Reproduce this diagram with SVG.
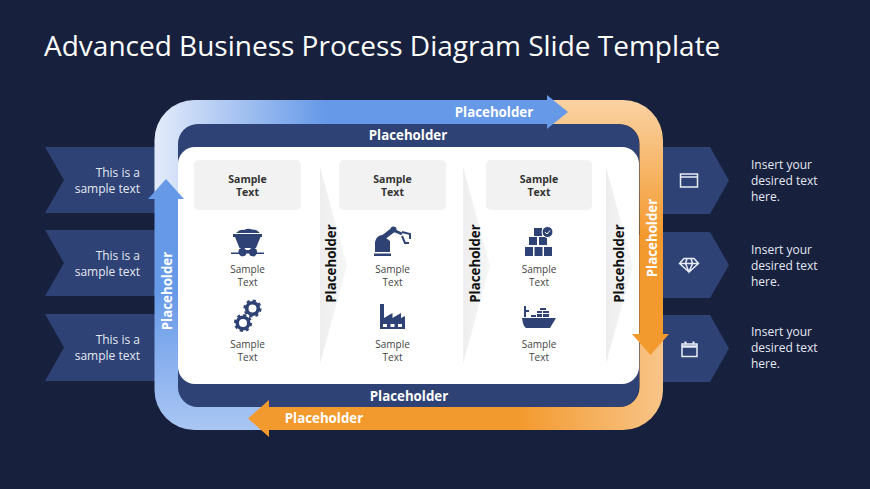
<svg xmlns="http://www.w3.org/2000/svg" width="870" height="489" viewBox="0 0 870 489">
<style>
text{font-family:"Open Sans","Liberation Sans",sans-serif}
.tag{fill:#2e4275}
.ic{fill:#2e4275}
.icl{fill:none;stroke:#e8edf7;stroke-width:1.500}
.side{font-size:12px;fill:#e4e8f2}
.sideL{text-anchor:end}
.ph{font-size:13.300px;font-weight:700;fill:#fff;text-anchor:middle}
.phk{font-size:13.300px;font-weight:700;fill:#111;text-anchor:middle}
.st{font-size:10.500px;font-weight:700;fill:#333;text-anchor:middle}
.sl{font-size:10px;fill:#444;text-anchor:middle}
.box{fill:#f2f2f2}
.tri{fill:url(#gTri)}
</style>
<defs>
<linearGradient id="gTop" gradientUnits="userSpaceOnUse" x1="155" y1="0" x2="325" y2="0"><stop offset="0" stop-color="#e3ebfa"/><stop offset="1" stop-color="#6699e8"/></linearGradient>
<linearGradient id="gOr" gradientUnits="userSpaceOnUse" x1="0" y1="100" x2="0" y2="235"><stop offset="0" stop-color="#fad2a3"/><stop offset="1" stop-color="#f39a2f"/></linearGradient>
<linearGradient id="gBot" gradientUnits="userSpaceOnUse" x1="663" y1="0" x2="520" y2="0"><stop offset="0" stop-color="#f8c488"/><stop offset="1" stop-color="#f39a2f"/></linearGradient>
<linearGradient id="gLeft" gradientUnits="userSpaceOnUse" x1="0" y1="290" x2="0" y2="430"><stop offset="0" stop-color="#6699e8"/><stop offset="1" stop-color="#aac6f4"/></linearGradient>
<linearGradient id="gTri" x1="0" y1="0" x2="1" y2="0"><stop offset="0" stop-color="#eeeeee"/><stop offset="1" stop-color="#f6f6f6"/></linearGradient>
</defs>
<rect width="870" height="489" fill="#17203d"/>
<text x="44" y="56" font-size="28" fill="#fff" id="title">Advanced Business Process Diagram Slide Template</text>

<g id="left-tags">
<path class="tag" d="M45 147H156V213H45L64 180Z"/>
<path class="tag" d="M45 230H156V296H45L64 263Z"/>
<path class="tag" d="M45 314H156V381H45L64 347.500Z"/>
<text class="side sideL" x="140" y="177">This is a</text><text class="side sideL" x="140" y="193">sample text</text>
<text class="side sideL" x="140" y="260">This is a</text><text class="side sideL" x="140" y="276">sample text</text>
<text class="side sideL" x="140" y="344">This is a</text><text class="side sideL" x="140" y="360">sample text</text>
</g>
<g id="right-tags">
<path class="tag" d="M660 147H710L729 180.500L710 214H660Z"/>
<path class="tag" d="M660 232H710L729 265L710 298H660Z"/>
<path class="tag" d="M660 315H710L729 348.500L710 382H660Z"/>
<g id="icon-window"><rect class="icl" x="680.500" y="174" width="17" height="13"/><path class="icl" d="M680.500 177H697.500"/></g>
<g id="icon-diamond"><path class="icl" d="M684 258.500H694L698.500 263.500L689 272L679.500 263.500ZM679.500 263.500H698.500M685.500 263.500L689 272L692.500 263.500M687 258.500L685.500 263.500M691 258.500L692.500 263.500"/></g>
<g id="icon-calendar"><rect class="icl" x="682" y="344" width="15" height="12.500"/><path d="M682 346.500H697" stroke="#e8edf7" stroke-width="2.500"/><path d="M685.500 341.500V344.500M693.500 341.500V344.500" stroke="#e8edf7" stroke-width="2"/></g>
<text class="side" x="751" y="169">Insert your</text><text class="side" x="751" y="185">desired text</text><text class="side" x="751" y="201">here.</text>
<text class="side" x="751" y="254">Insert your</text><text class="side" x="751" y="270">desired text</text><text class="side" x="751" y="286">here.</text>
<text class="side" x="751" y="336">Insert your</text><text class="side" x="751" y="352">desired text</text><text class="side" x="751" y="368">here.</text>
</g>

<g id="frame">
<rect x="178" y="124" width="461" height="283" rx="20" fill="#2e4275"/>
<rect x="178" y="147" width="461" height="237" rx="17" fill="#fff"/>
<text class="ph" x="408" y="140">Placeholder</text>
<text class="ph" x="409" y="401">Placeholder</text>
</g>

<g id="connectors">
<path fill="url(#gTop)" d="M154.500 195V140A40 40 0 0 1 194.500 100H326V124H198A20 20 0 0 0 178 144V195Z"/>
<path fill="url(#gOr)" d="M545 100H623A40 40 0 0 1 663 140V340H639.500V144A20 20 0 0 0 619.500 124H545Z"/>
<path fill="url(#gBot)" d="M639.500 335H663V390A40 40 0 0 1 623 430H520V407H619.500A20 20 0 0 0 639.500 387Z"/>
<path fill="url(#gLeft)" d="M154.500 290H178V387A20 20 0 0 0 198 407H262V430H194.500A40 40 0 0 1 154.500 390Z"/>
<path fill="#f39a2f" d="M639.500 235H663V334H669L650.500 355L632 334H639.500Z"/>
<path fill="#f39a2f" d="M521 407H269V400L248 418.500L269 437V430H521Z"/>
<path fill="#6699e8" d="M154.500 295V199H148L166 179L184 199H178V295Z"/>
<path fill="#6699e8" d="M325 100H547V95L568 112L547 129V124H325Z"/>
<text class="ph" x="494" y="117">Placeholder</text>
<text class="ph" x="324" y="423">Placeholder</text>
<text class="ph" transform="translate(172 291) rotate(-90)">Placeholder</text>
<text class="ph" transform="translate(657 238) rotate(-90)">Placeholder</text>
</g>

<g id="col-arrows">
<path class="tri" d="M320 167L347 265.500L320 364Z"/>
<path class="tri" d="M463 167L490 265.500L463 364Z"/>
<path class="tri" d="M606 167L633 265.500L606 364Z"/>
<text class="phk" transform="translate(336 263.500) rotate(-90)">Placeholder</text>
<text class="phk" transform="translate(480 263.500) rotate(-90)">Placeholder</text>
<text class="phk" transform="translate(624 263.500) rotate(-90)">Placeholder</text>
</g>

<g id="col-1">
<rect class="box" x="194" y="160" width="107" height="50" rx="5"/>
<text class="st" x="247.500" y="183">Sample</text><text class="st" x="247.500" y="196">Text</text>
<g id="icon-cart"><path class="ic" d="M236 233Q240 229 244 230Q248 228 252 229.500Q256 229 260 233Z"/><path class="ic" d="M233 234H262V237H260.500L256 248H239.500L235 237H233Z"/><path class="ic" d="M231 252.500H238.500A4 4 0 0 1 246 250H249.500A4 4 0 0 1 257 252.500H264V254H256.500A4 4 0 0 1 249 253.500H246.500A4 4 0 0 1 239 254H231Z"/></g>
<text class="sl" x="247.500" y="273">Sample</text><text class="sl" x="247.500" y="286">Text</text>
<g id="icon-gears">
<circle cx="252.500" cy="308.500" r="5.800" fill="none" stroke="#2e4275" stroke-width="3.600"/>
<circle cx="252.500" cy="308.500" r="8" fill="none" stroke="#2e4275" stroke-width="2.200" stroke-dasharray="3.140 3.140"/>
<circle cx="243" cy="323" r="5.800" fill="none" stroke="#2e4275" stroke-width="3.600"/>
<circle cx="243" cy="323" r="8" fill="none" stroke="#2e4275" stroke-width="2.200" stroke-dasharray="3.140 3.140"/>
</g>
<text class="sl" x="247.500" y="348">Sample</text><text class="sl" x="247.500" y="361">Text</text>
</g>

<g id="col-2">
<rect class="box" x="339" y="160" width="107" height="50" rx="5"/>
<text class="st" x="392.500" y="183">Sample</text><text class="st" x="392.500" y="196">Text</text>
<g id="icon-robot"><path class="ic" d="M375 242Q376 236 382 235L390 241V252H375ZM374 253.500H391V256H374Z"/><path d="M380 240L393 230" fill="none" stroke="#2e4275" stroke-width="5"/><path d="M393 230L402 234" fill="none" stroke="#2e4275" stroke-width="3"/><circle cx="393.500" cy="229.500" r="3" fill="#2e4275"/><path d="M402 232L410 234V239M402 236L405 243H409" fill="none" stroke="#2e4275" stroke-width="2"/></g>
<text class="sl" x="392.500" y="273">Sample</text><text class="sl" x="392.500" y="286">Text</text>
<g id="icon-factory"><path class="ic" d="M380 304H384V318L392.500 313V318L401 313V318L405 316V329H380Z"/><path fill="#fff" d="M383 324H387V327H383ZM390.500 324H394.500V327H390.500ZM398 324H402V327H398Z"/></g>
<text class="sl" x="392.500" y="348">Sample</text><text class="sl" x="392.500" y="361">Text</text>
</g>

<g id="col-3">
<rect class="box" x="486" y="160" width="106" height="50" rx="5"/>
<text class="st" x="539" y="183">Sample</text><text class="st" x="539" y="196">Text</text>
<g id="icon-boxes"><path class="ic" d="M534 228H542V236H534ZM529 237H537V245H529ZM539 237H547V245H539ZM525 247H533V256H525ZM534.500 247H542.500V256H534.500ZM544 247H552V256H544Z"/><circle cx="547.500" cy="232" r="5.500" fill="#2e4275" stroke="#fff"/><path d="M545 232L547 234L550 230.500" fill="none" stroke="#fff"/></g>
<text class="sl" x="539" y="273">Sample</text><text class="sl" x="539" y="286">Text</text>
<g id="icon-ship"><path class="ic" d="M522 318H556L550 328H526Q523 326 522 318Z"/><path class="ic" d="M524 306H526V310H529V312H526V317H524ZM531 315H536V317H531ZM537 314H542V317H537ZM543 314H549V317H543ZM537 311H542V313H537ZM543 311H549V313H543ZM540 308H546V310H540Z"/></g>
<text class="sl" x="539" y="348">Sample</text><text class="sl" x="539" y="361">Text</text>
</g>
</svg>
